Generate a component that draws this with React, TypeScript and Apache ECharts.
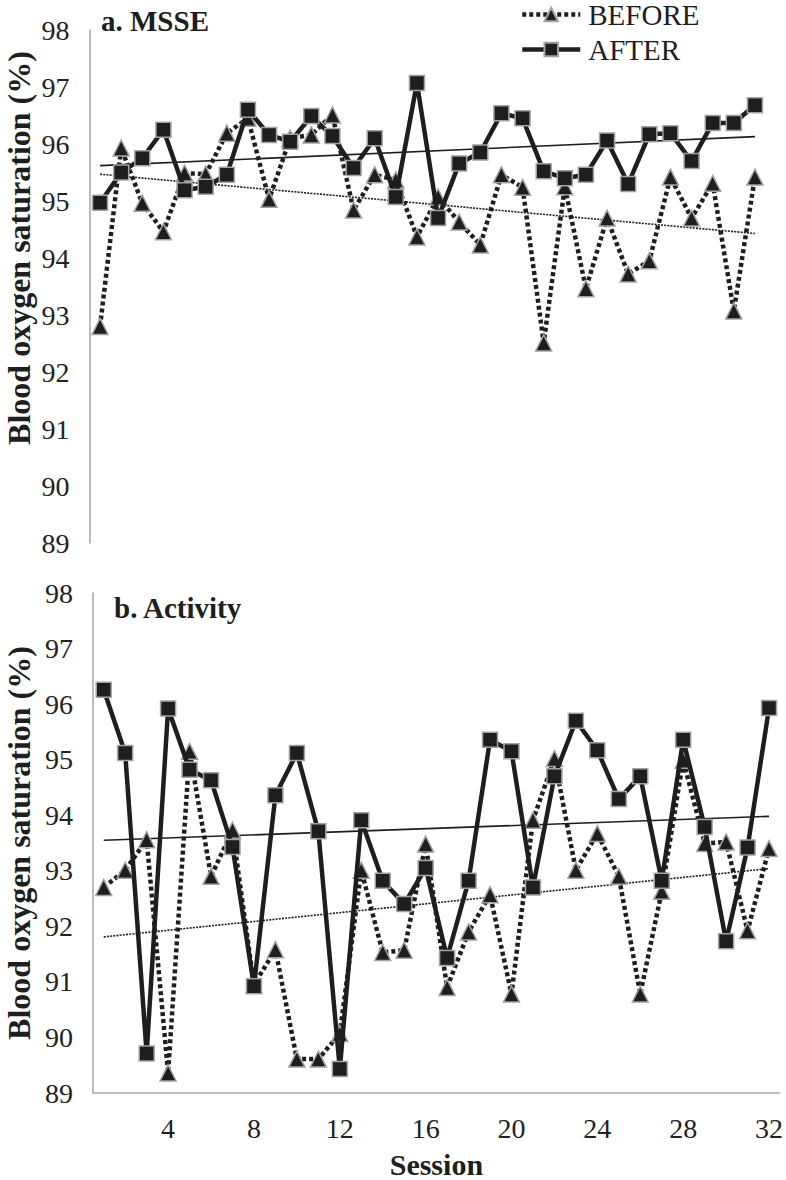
import React, { useEffect, useRef } from "react";
import * as echarts from "echarts";

const sessions = ["1","2","3","4","5","6","7","8","9","10","11","12","13","14","15","16","17","18","19","20","21","22","23","24","25","26","27","28","29","30","31","32"];
const yTicks = [89, 98, 1];

const msseBefore = [92.8, 95.93, 94.96, 94.46, 95.49, 95.47, 96.19, 96.45, 95.03, 96.1, 96.16, 96.51, 94.84, 95.46, 95.37, 94.37, 95.07, 94.63, 94.23, 95.46, 95.24, 92.51, 95.25, 93.46, 94.7, 93.72, 93.95, 95.42, 94.7, 95.31, 93.07, 95.42];
const msseAfter = [94.97, 95.5, 95.75, 96.25, 95.19, 95.25, 95.46, 96.6, 96.16, 96.04, 96.49, 96.14, 95.58, 96.1, 95.07, 97.07, 94.7, 95.66, 95.85, 96.54, 96.45, 95.52, 95.4, 95.46, 96.06, 95.3, 96.17, 96.19, 95.7, 96.37, 96.37, 96.68];
const activityBefore = [92.7, 93.01, 93.56, 89.36, 95.15, 92.9, 93.73, 90.95, 91.58, 89.61, 89.61, 90.07, 93.01, 91.53, 91.57, 93.48, 90.9, 91.9, 92.57, 90.78, 93.91, 95.02, 93.01, 93.67, 92.9, 90.78, 92.63, 94.99, 93.49, 93.52, 91.92, 93.4];
const activityAfter = [96.26, 95.12, 89.71, 95.92, 94.82, 94.63, 93.43, 90.92, 94.36, 95.12, 93.71, 89.43, 93.91, 92.82, 92.4, 93.05, 91.43, 92.82, 95.36, 95.15, 92.7, 94.7, 95.7, 95.17, 94.29, 94.7, 92.82, 95.36, 93.79, 91.73, 93.42, 95.93];

// linear trendline end values (first and last session)
const msseBeforeTrend = [95.47, 94.43];
const msseAfterTrend = [95.62, 96.13];
const activityBeforeTrend = [91.81, 93.04];
const activityAfterTrend = [93.55, 93.98];

const panelTitles = ["a. MSSE", "b. Activity"];
const yAxisTitle = "Blood oxygen saturation (%)";
const xAxisTitle = "Session";
const legendNames = ["BEFORE", "AFTER"];

const FONT = "Liberation Serif";
const INK = "#1e1e1e";
const EDGE = "#a3a3a3";
const AXIS = "#a6a6a6";

export default function App() {
  const ref = useRef<HTMLDivElement>(null);
  useEffect(() => {
    if (!ref.current) return;
    const chart = echarts.init(ref.current, null, { renderer: "svg" });

    const beforeSeries = (name: string, data: number[], idx: number) => ({
      name,
      type: "line",
      xAxisIndex: idx,
      yAxisIndex: idx,
      data,
      symbol: "triangle",
      symbolSize: 16,
      showAllSymbol: true,
      showSymbol: true,
      z: 3,
      lineStyle: { color: INK, width: 4.5, type: [4, 3], cap: "butt" },
      itemStyle: { color: INK, borderColor: EDGE, borderWidth: 1.5 },
    });
    const afterSeries = (name: string, data: number[], idx: number) => ({
      name,
      type: "line",
      xAxisIndex: idx,
      yAxisIndex: idx,
      data,
      symbol: "rect",
      symbolSize: 15,
      showAllSymbol: true,
      showSymbol: true,
      z: 4,
      lineStyle: { color: INK, width: 4.5, type: "solid" },
      itemStyle: { color: INK, borderColor: EDGE, borderWidth: 1.5 },
    });
    const trendSeries = (name: string, ends: number[], idx: number, dotted: boolean) => ({
      name,
      type: "line",
      xAxisIndex: idx,
      yAxisIndex: idx,
      data: [[sessions[0], ends[0]], [sessions[sessions.length - 1], ends[1]]],
      symbol: "none",
      z: 2,
      silent: true,
      lineStyle: dotted
        ? { color: INK, width: 1.6, type: [2, 1.2] }
        : { color: INK, width: 1.6, type: "solid" },
    });

    const yAxisCommon = {
      type: "value",
      min: yTicks[0],
      max: yTicks[1],
      interval: yTicks[2],
      axisLine: { show: true, lineStyle: { color: AXIS, width: 1.5 } },
      axisTick: { show: false },
      splitLine: { show: false },
      axisLabel: { color: "#222", fontSize: 28, fontFamily: FONT, margin: 20 },
    };

    const yTitle = (cy: number) => ({
      type: "text",
      x: 19,
      y: cy,
      rotation: Math.PI / 2,
      style: {
        text: yAxisTitle,
        fontFamily: FONT,
        fontSize: 32,
        fontWeight: "bold",
        fill: INK,
        textAlign: "center",
        textVerticalAlign: "middle",
      },
    });

    chart.setOption({
      animation: false,
      backgroundColor: "#ffffff",
      textStyle: { fontFamily: FONT },
      title: [
        {
          text: panelTitles[0],
          left: 96,
          top: 1,
          textStyle: { fontFamily: FONT, fontSize: 29, fontWeight: "bold", color: INK },
        },
        {
          text: panelTitles[1],
          left: 109,
          top: 588,
          textStyle: { fontFamily: FONT, fontSize: 29, fontWeight: "bold", color: INK },
        },
      ],
      legend: {
        data: legendNames,
        orient: "vertical",
        left: 520,
        top: 0,
        padding: 0,
        itemWidth: 58,
        itemHeight: 17,
        itemGap: 6,
        lineStyle: { width: 4.5 },
        textStyle: { fontFamily: FONT, fontSize: 29, lineHeight: 28, color: INK, padding: [0, 0, 0, 3] },
      },
      grid: [
        { left: 89.5, top: 30, width: 676, height: 513 },
        { left: 93, top: 593, width: 689, height: 517 },
      ],
      xAxis: [
        {
          type: "category",
          gridIndex: 0,
          data: sessions,
          boundaryGap: true,
          axisLine: { show: false },
          axisTick: { show: false },
          axisLabel: { show: false },
          splitLine: { show: false },
        },
        {
          type: "category",
          gridIndex: 1,
          data: sessions,
          boundaryGap: true,
          axisLine: { show: true, lineStyle: { color: AXIS, width: 1.5 } },
          axisTick: { show: false },
          splitLine: { show: false },
          axisLabel: {
            interval: (i: number) => (i + 1) % 4 === 0,
            color: "#222",
            fontSize: 28,
            fontFamily: FONT,
            margin: 21,
          },
          name: xAxisTitle,
          nameLocation: "middle",
          nameGap: 56,
          nameTextStyle: { fontFamily: FONT, fontSize: 30, fontWeight: "bold", color: INK },
        },
      ],
      yAxis: [
        { ...yAxisCommon, gridIndex: 0 },
        { ...yAxisCommon, gridIndex: 1 },
      ],
      graphic: [yTitle(248), yTitle(843)],
      series: [
        trendSeries("BEFORE trend", msseBeforeTrend, 0, true),
        trendSeries("AFTER trend", msseAfterTrend, 0, false),
        beforeSeries("BEFORE", msseBefore, 0),
        afterSeries("AFTER", msseAfter, 0),
        trendSeries("BEFORE trend b", activityBeforeTrend, 1, true),
        trendSeries("AFTER trend b", activityAfterTrend, 1, false),
        beforeSeries("BEFORE", activityBefore, 1),
        afterSeries("AFTER", activityAfter, 1),
      ],
    });
    return () => chart.dispose();
  }, []);

  return (
    <div
      ref={ref}
      style={{ position: "fixed", left: 0, top: 0, width: 786, height: 1180, background: "#fff" }}
    />
  );
}
